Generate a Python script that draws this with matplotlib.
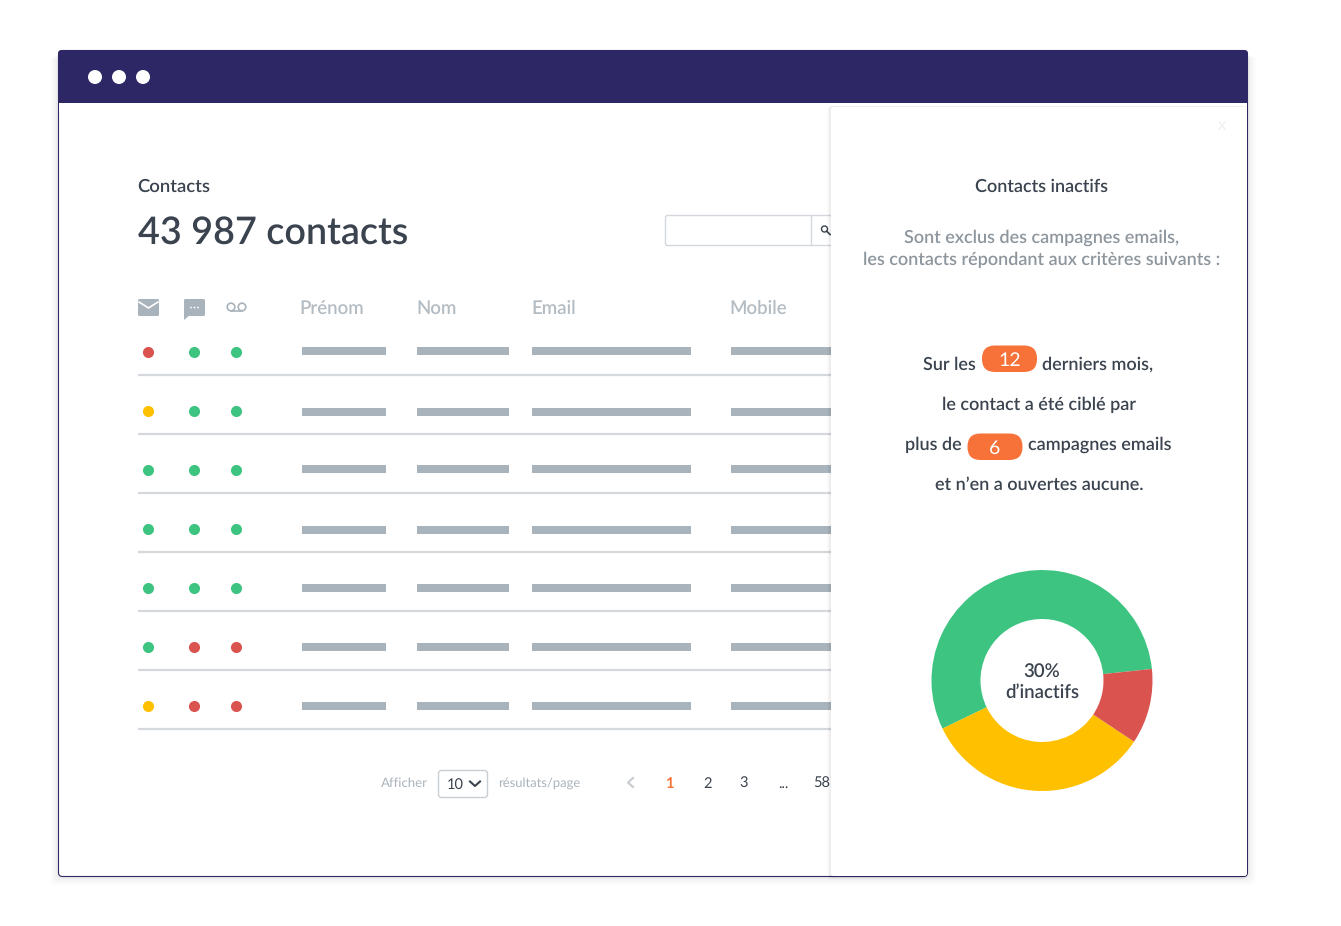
import matplotlib
matplotlib.use('Agg')
import matplotlib.pyplot as plt
from matplotlib.patches import FancyBboxPatch, Rectangle, Circle, Polygon

plt.rcParams['font.family'] = ['Lato', 'Open Sans', 'DejaVu Sans']
plt.rcParams['text.hinting'] = 'none'

W, H = 1341, 926

# colours
NAVY = '#2d2766'
GREEN = '#3ec481'
RED = '#da534f'
YELLOW = '#ffc000'
ORANGE = '#f77239'
DARK = '#3a434e'
GREY = '#aab3bb'
BAR = '#a9b3bb'
LINE = '#d5d9dd'
WEIGHT = 'semibold'

# table data
columns = ['Prénom', 'Nom', 'Email', 'Mobile']
column_x = [299.5, 416.5, 531.5, 729.5]
bar_spans = [(302, 386), (417, 509), (532, 691), (731, 831)]
row_y = [352, 411, 470, 529, 588, 647, 706]
bar_y = [351, 412, 469, 530, 588, 647, 706]
separator_y = [375, 434, 493, 552, 611, 670, 729]
email_status = ['r', 'y', 'g', 'g', 'g', 'g', 'y']
sms_status = ['g', 'g', 'g', 'g', 'g', 'r', 'r']
voice_status = ['g', 'g', 'g', 'g', 'g', 'r', 'r']
status_x = [148.5, 194.5, 236.5]
status_colors = {'r': RED, 'y': YELLOW, 'g': GREEN}

# pagination
pages = ['2', '3', '...', '58']
pages_x = [708, 744, 783, 822]

# donut
donut_labels = ['actifs', 'inactifs', 'moyens']
donut_values = [55.5, 33.5, 11.0]
donut_colors = [GREEN, YELLOW, RED]


def rounded(ax, x0, y0, x1, y1, r, **kw):
    p = FancyBboxPatch((x0 + r, y0 + r), x1 - x0 - 2 * r, y1 - y0 - 2 * r,
                       boxstyle='round,pad=%f,rounding_size=%f' % (r, r), **kw)
    ax.add_patch(p)
    return p


fig = plt.figure(figsize=(W / 100, H / 100), dpi=100, facecolor='white')
ax = fig.add_axes([0, 0, 1, 1])
ax.set_xlim(0, W)
ax.set_ylim(H, 0)
ax.axis('off')

# window
for i, a in enumerate([0.012, 0.016, 0.02, 0.025]):
    g = 8 - 2 * i
    rounded(ax, 58 - g, 56, 1248 + g, 877 + g, 6, fc='black', ec='none', alpha=a, zorder=0)
rounded(ax, 58.5, 50.5, 1247.5, 876.5, 4, fc='white', ec=NAVY, lw=0.8, zorder=1)
rounded(ax, 58, 50, 1248, 110, 4, fc=NAVY, ec='none', zorder=2)
ax.add_patch(Rectangle((59, 103), 1188, 9, fc='white', ec='none', zorder=2))
for x in [95, 119, 143]:
    ax.add_patch(Circle((x, 77), 7, fc='white', ec='none', zorder=3))

# left header
ax.text(137.5, 186.5, 'Contacts', fontsize=13.3, color=DARK, va='center', fontweight=WEIGHT, zorder=3)
ax.text(138, 232.5, '43 987 contacts', fontsize=27.2, color=DARK, va='center', fontweight=WEIGHT, zorder=3)

# search box
rounded(ax, 665.5, 215.5, 840, 245.5, 2, fc='white', ec='#d4d8dc', lw=1, zorder=2)
ax.plot([811, 811], [216, 245], color='#d4d8dc', lw=1, zorder=3)
ax.add_patch(Circle((824.5, 229), 3, fc='none', ec=DARK, lw=1, zorder=3))
ax.plot([826.7, 830], [231.2, 234.5], color=DARK, lw=1.2, zorder=3)

# header icons
rounded(ax, 138, 299, 159, 316, 1.5, fc=BAR, ec='none', zorder=3)
ax.plot([139, 148.5, 158], [302, 308, 302], color='white', lw=1.2, zorder=4)
rounded(ax, 184, 299, 205, 316, 1.5, fc=BAR, ec='none', zorder=3)
ax.add_patch(Polygon([[184, 314], [184, 320], [190, 315]], fc=BAR, ec='none', zorder=3))
for x in [191, 194.5, 198]:
    ax.add_patch(Circle((x, 307.5), 0.9, fc='white', ec='none', zorder=4))
ax.add_patch(Circle((231, 307), 3.8, fc='none', ec=BAR, lw=1.2, zorder=3))
ax.add_patch(Circle((242, 307), 3.8, fc='none', ec=BAR, lw=1.2, zorder=3))
ax.plot([231, 242], [310.8, 310.8], color=BAR, lw=1.2, zorder=3)

for name, x in zip(columns, column_x):
    ax.text(x, 308, name, fontsize=13.4, color='#b4bcc3', va='center', fontweight=WEIGHT, zorder=3)

# rows
for y, sep, by, a, b, c in zip(row_y, separator_y, bar_y, email_status, sms_status, voice_status):
    for x, s in zip(status_x, (a, b, c)):
        ax.scatter([x], [y], s=64, color=status_colors[s], linewidths=0, zorder=3)
    for x0, x1 in bar_spans:
        ax.add_patch(Rectangle((x0, by - 4), x1 - x0, 8, fc=BAR, ec='none', zorder=3))
    ax.plot([138, 831], [sep, sep], color=LINE, lw=1.6, zorder=2, solid_capstyle='butt')

# pagination
ax.text(381, 783, 'Afficher', fontsize=9.5, color=GREY, va='center', zorder=3)
rounded(ax, 438.5, 770.5, 487.5, 797.5, 3, fc='white', ec='#c9ced3', lw=1, zorder=3)
ax.text(447, 785, '10', fontsize=10.5, color=DARK, va='center', zorder=4)
ax.plot([470, 475, 480], [781.5, 786, 781.5], color=DARK, lw=1.5, zorder=4)
ax.text(498.5, 783, 'résultats/page', fontsize=9.4, color=GREY, va='center', zorder=3)
ax.plot([633, 628, 633], [778, 782.5, 787], color='#c9ced3', lw=1.6, zorder=3)
ax.text(669.5, 783.5, '1', fontsize=10.5, color=ORANGE, va='center', ha='center', fontweight='bold', zorder=3)
for p, x in zip(pages, pages_x):
    ax.text(x, 783.5, p, fontsize=10.5, color=DARK, va='center', ha='center', zorder=3)

# right panel
for i, a in enumerate([0.015, 0.02, 0.03]):
    g = 4 - i
    rounded(ax, 831 - g, 106, 1247 + min(g, 0), 876 + g, 4, fc='black', ec='none', alpha=a, zorder=5)
rounded(ax, 831, 107, 1247, 876, 3, fc='white', ec='none', zorder=6)
ax.text(1222, 125, 'x', fontsize=12, color='#eef0f2', va='center', ha='center', zorder=7)

PANEL_SIZE = 13.0
ax.text(1041.5, 186.5, 'Contacts inactifs', fontsize=PANEL_SIZE, color=DARK, va='center', ha='center', fontweight=WEIGHT, zorder=7)
ax.text(1042, 237.5, 'Sont exclus des campagnes emails,', fontsize=PANEL_SIZE, color='#8d959d', va='center', ha='center', fontweight=WEIGHT, zorder=7)
ax.text(1042, 259.5, 'les contacts répondant aux critères suivants :', fontsize=PANEL_SIZE, color='#8d959d', va='center', ha='center', fontweight=WEIGHT, zorder=7)

ax.text(976, 364.5, 'Sur les', fontsize=PANEL_SIZE, color=DARK, va='center', ha='right', fontweight=WEIGHT, zorder=7)
rounded(ax, 982, 345.5, 1037, 372, 13, fc=ORANGE, ec='none', zorder=7)
ax.text(1009.5, 360.5, '12', fontsize=14, color='white', va='center', ha='center', zorder=8)
ax.text(1042, 364.5, 'derniers mois,', fontsize=PANEL_SIZE, color=DARK, va='center', ha='left', fontweight=WEIGHT, zorder=7)
ax.text(1039, 404.5, 'le contact a été ciblé par', fontsize=PANEL_SIZE, color=DARK, va='center', ha='center', fontweight=WEIGHT, zorder=7)
ax.text(962, 444.5, 'plus de', fontsize=PANEL_SIZE, color=DARK, va='center', ha='right', fontweight=WEIGHT, zorder=7)
rounded(ax, 967.5, 433.5, 1022.5, 460, 13, fc=ORANGE, ec='none', zorder=7)
ax.text(995, 448.5, '6', fontsize=14, color='white', va='center', ha='center', zorder=8)
ax.text(1028, 444.5, 'campagnes emails', fontsize=PANEL_SIZE, color=DARK, va='center', ha='left', fontweight=WEIGHT, zorder=7)
ax.text(1039, 484.5, 'et n’en a ouvertes aucune.', fontsize=PANEL_SIZE, color=DARK, va='center', ha='center', fontweight=WEIGHT, zorder=7)

# donut, centre (1042, 680.5), radius 110.5
cx, cy, r = 1042, 680.5, 110.5
pie_ax = fig.add_axes([(cx - r) / W, 1 - (cy + r) / H, 2 * r / W, 2 * r / H], zorder=5)
pie_ax.pie(donut_values, colors=donut_colors, startangle=6, counterclock=True, radius=1,
           wedgeprops=dict(width=1 - 61.5 / 110.5, linewidth=0))
pie_ax.set_xlim(-1, 1)
pie_ax.set_ylim(-1, 1)
pie_ax.set_aspect('equal')
pie_ax.patch.set_alpha(0)
pie_ax.text(0, 0.085, '30%', fontsize=13.4, color=DARK, ha='center', va='center', fontweight=WEIGHT)
pie_ax.text(0, -0.11, 'd’inactifs', fontsize=13.4, color=DARK, ha='center', va='center', fontweight=WEIGHT)

fig.savefig('out.png', dpi=100, facecolor='white')
